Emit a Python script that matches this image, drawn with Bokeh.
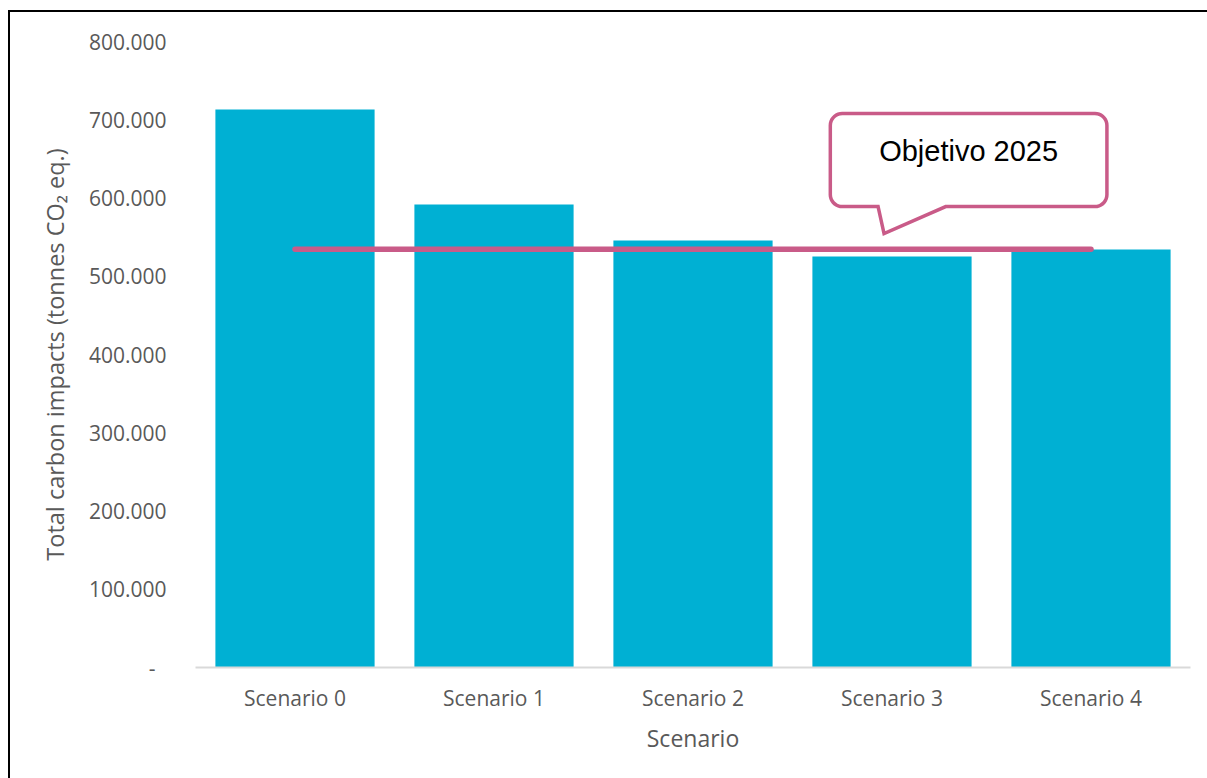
import numpy as np
from bokeh.plotting import figure
from bokeh.models import Range1d, FixedTicker
from bokeh.core.properties import value
from bokeh.embed import file_html
from bokeh.resources import INLINE

# ---- data ----
scenarios = ["Scenario 0", "Scenario 1", "Scenario 2", "Scenario 3", "Scenario 4"]
impacts = [713000, 591700, 545700, 525200, 534200]   # tonnes CO2 eq.
target_2025 = 534600
target_label = "Objetivo 2025"
y_ticks = [0, 100000, 200000, 300000, 400000, 500000, 600000, 700000, 800000]
y_tick_labels = ["-\u00a0\u00a0", "100.000", "200.000", "300.000", "400.000",
                 "500.000", "600.000", "700.000", "800.000"]

BAR_COLOR = "#00B0D3"
TARGET_COLOR = "#C95B88"
TEXT_GREY = "#595959"
FONT = "Open Sans"

positions = list(range(len(scenarios)))

p = figure(width=1207, height=778,
           x_range=Range1d(-0.5, len(scenarios) - 0.5),
           y_range=Range1d(0, 800000),
           output_backend="svg", toolbar_location=None,
           min_border_left=195, min_border_right=17,
           min_border_top=41, min_border_bottom=111)

# chart border: black rules along the top and left, painted behind a transparent canvas border
p.styles = {
    "background-color": "#ffffff",
    "background-image": "linear-gradient(#000000, #000000), linear-gradient(#000000, #000000)",
    "background-position": "8px 10px, 8px 10px",
    "background-size": "2px 100%, 100% 2px",
    "background-repeat": "no-repeat",
}
p.border_fill_color = None
p.background_fill_color = "white"
p.outline_line_color = None
p.xgrid.visible = False
p.ygrid.visible = False

# bars
p.vbar(x=positions, top=impacts, width=0.8, fill_color=BAR_COLOR, line_color=None)

# 2025 target line from first to last scenario
p.line(x=[positions[0], positions[-1]], y=[target_2025, target_2025],
       line_color=TARGET_COLOR, line_width=5.5, line_cap="round")

# speech-bubble callout for the target
box_l, box_r, box_b, box_t = 2.69, 4.08, 589000, 708000
rx, ry = 0.06, 15300
tip_x, tip_y = 2.96, 554600
base_l, base_r = 2.93, 3.27


def arc(cx, cy, a0, a1, n=10):
    a = np.radians(np.linspace(a0, a1, n))
    return list(cx + rx * np.cos(a)), list(cy + ry * np.sin(a))


xs, ys = [], []
xs += [box_l + rx, base_l, tip_x, base_r]
ys += [box_b, box_b, tip_y, box_b]
for cx, cy, a0, a1 in [(box_r - rx, box_b + ry, -90, 0),
                       (box_r - rx, box_t - ry, 0, 90),
                       (box_l + rx, box_t - ry, 90, 180),
                       (box_l + rx, box_b + ry, 180, 270)]:
    ax, ay = arc(cx, cy, a0, a1)
    xs += ax
    ys += ay

p.patch(xs, ys, fill_color="white", line_color=TARGET_COLOR,
        line_width=3.5, line_join="miter")
p.text(x=[(box_l + box_r) / 2], y=[660700], text=[target_label],
       text_align="center", text_baseline="middle",
       text_font=value("Liberation Sans"), text_font_size="29px",
       text_color="#000000")

# x axis
p.xaxis.ticker = FixedTicker(ticks=positions)
p.xaxis.major_label_overrides = {i: s for i, s in zip(positions, scenarios)}
p.xaxis.axis_label = "Scenario"
p.xaxis.axis_line_color = "#D9D9D9"
p.xaxis.axis_line_width = 2
p.xaxis.major_tick_line_color = None
p.xaxis.minor_tick_line_color = None
p.xaxis.major_tick_out = 0
p.xaxis.major_label_standoff = 16
p.xaxis.axis_label_standoff = 7

# y axis
p.yaxis.ticker = FixedTicker(ticks=y_ticks)
p.yaxis.major_label_overrides = {t: s for t, s in zip(y_ticks, y_tick_labels)}
p.yaxis.axis_label = "Total carbon impacts (tonnes CO\u2082 eq.)"
p.yaxis.axis_line_color = None
p.yaxis.major_tick_line_color = None
p.yaxis.minor_tick_line_color = None
p.yaxis.major_tick_out = 0
p.yaxis.major_label_standoff = 29
p.yaxis.axis_label_standoff = 15

for ax in (p.xaxis, p.yaxis):
    ax.major_label_text_font = FONT
    ax.major_label_text_font_size = "21px"
    ax.major_label_text_color = TEXT_GREY
    ax.axis_label_text_font = FONT
    ax.axis_label_text_font_style = "normal"
    ax.axis_label_text_color = TEXT_GREY
p.xaxis.axis_label_text_font_size = "23px"
p.yaxis.axis_label_text_font_size = "23.5px"

open("out.html", "w").write(file_html(p, INLINE))
